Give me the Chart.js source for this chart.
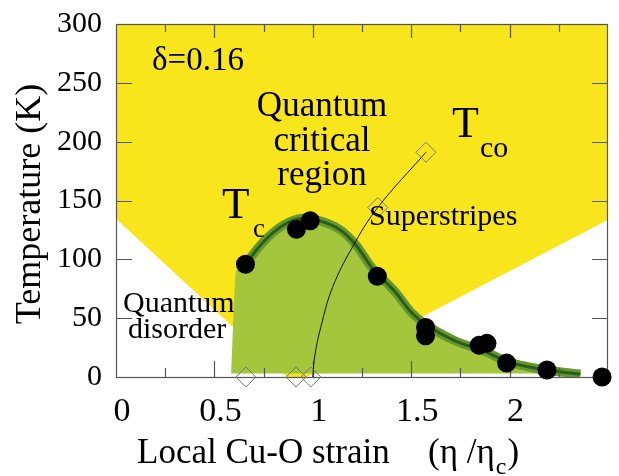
<!DOCTYPE html>
<html lang="en">
<head>
<meta charset="UTF-8">
<title>Phase diagram vs local Cu-O strain</title>
<script src="https://cdn.jsdelivr.net/npm/chart.js@4"></script>
<style>
  body { margin: 0; background: #fff; }
  #wrap { width: 619px; height: 476px; }
</style>
</head>
<body>
<div id="wrap"><canvas id="phase"></canvas></div>
<script>
// measured Tc points (black dots)
const tcX = [0.658, 0.917, 0.987, 1.328, 1.573, 1.573, 1.845, 1.885, 1.985, 2.19, 2.47];
const tcY = [95.8, 125.5, 132.8, 85.7, 42, 35, 26.9, 28.6, 11.8, 5.9, 0];

// smooth Tc curve drawn through the dots
const curveX = [0.64, 0.75, 0.85, 0.95, 1.02, 1.14, 1.22, 1.30, 1.42, 1.50, 1.57, 1.72, 1.87, 1.99, 2.10, 2.20, 2.36];
const curveY = [92, 115, 129, 135, 133.5, 125, 112, 93, 72, 55, 45, 31, 22, 13, 8.5, 5.5, 2.5];

// left edge of the superconducting (green) dome
const domeEdgeX = [0.585, 0.612];
const domeEdgeY = [3, 91];
const domeBase = 3;

// Tco points (open diamonds) and the line through them
const tcoX = [0.66, 0.915, 0.99, 1.33, 1.575];
const tcoY = [0, 0, 0, 144, 191];
const tcoLineX = [1.0, 1.01, 1.04, 1.10, 1.20, 1.33, 1.575];
const tcoLineY = [0, 18, 42, 76, 110, 144, 191];

// lower boundary of the quantum critical (yellow) region
const qcrX = [0, 0.87, 0.97, 2.5];
const qcrY = [134.5, 0, 0, 133.6];

const xTickLabels = ['0', '0.5', '1', '1.5', '2'];

const zip = (xs, ys) => xs.map((x, i) => ({ x: x, y: ys[i] }));

const serif = "'Liberation Serif'";

// inner tick marks and the box round the plot
function drawFrame(chart) {
  const { ctx, chartArea: a, scales } = chart;
  ctx.save();
  ctx.strokeStyle = '#555';
  ctx.lineWidth = 1.2;
  ctx.beginPath();
  scales.x.ticks.forEach(t => {
    if (t.value <= 0 || t.value >= 2.5) return;
    const px = Math.round(scales.x.getPixelForValue(t.value)) + 0.5;
    const major = Math.abs(t.value * 2 - Math.round(t.value * 2)) < 1e-6;
    ctx.moveTo(px, a.bottom); ctx.lineTo(px, a.bottom - (major ? 16 : 9));
    ctx.moveTo(px, a.top); ctx.lineTo(px, a.top + (major ? 14 : 8));
  });
  scales.y.ticks.forEach(t => {
    if (t.value <= 0 || t.value >= 300) return;
    const py = Math.round(scales.y.getPixelForValue(t.value)) + 0.5;
    ctx.moveTo(a.left, py); ctx.lineTo(a.left + 16, py);
    ctx.moveTo(a.right, py); ctx.lineTo(a.right - 16, py);
  });
  ctx.stroke();
  ctx.strokeRect(a.left + 0.5, a.top + 0.5, a.right - a.left - 1, a.bottom - a.top);
  ctx.restore();
}

const framePlugin = {
  id: 'frame',
  afterDatasetDraw(chart, args) {
    if (chart.data.datasets[args.index].label === 'Tc curve') drawFrame(chart);
  }
};

function text(ctx, s, x, y, size, align) {
  ctx.font = size + 'px ' + serif;
  ctx.textAlign = align || 'left';
  ctx.fillText(s, x, y);
}

const labelPlugin = {
  id: 'labels',
  afterDraw(chart) {
    const ctx = chart.ctx;
    ctx.save();
    ctx.fillStyle = '#000';
    ctx.textBaseline = 'alphabetic';
    text(ctx, 'δ=0.16', 152, 70, 33);
    text(ctx, 'Quantum', 322, 116, 35, 'center');
    text(ctx, 'critical', 322, 151, 35, 'center');
    text(ctx, 'region', 322, 185, 35, 'center');
    text(ctx, 'T', 222, 218, 45);
    text(ctx, 'c', 253, 237, 27);
    text(ctx, 'T', 452, 137, 44);
    text(ctx, 'co', 480, 157, 30);
    text(ctx, 'Superstripes', 369, 225, 30);
    text(ctx, 'Quantum', 123, 312, 30);
    text(ctx, 'disorder', 128, 338, 30);
    // y axis title, drawn rotated
    ctx.save();
    ctx.translate(40, 204);
    ctx.rotate(-Math.PI / 2);
    text(ctx, 'Temperature (K)', 0, 0, 36, 'center');
    ctx.restore();
    // x axis title with subscript
    text(ctx, 'Local Cu-O strain', 137, 463, 35);
    ctx.font = '35px ' + serif;
    const head = '(η /η';
    const w = ctx.measureText(head).width;
    text(ctx, head, 428, 463, 35);
    text(ctx, 'c', 428 + w + 1, 474, 24);
    ctx.font = '24px ' + serif;
    const wc = ctx.measureText('c').width;
    text(ctx, ')', 428 + w + wc + 2, 463, 35);
    ctx.restore();
  }
};

new Chart(document.getElementById('phase'), {
  type: 'line',
  data: {
    datasets: [
      {
        label: 'Tc data',
        data: zip(tcX, tcY),
        showLine: false,
        pointRadius: 9.5,
        pointBorderWidth: 0,
        pointBackgroundColor: '#000',
        clip: false,
        order: 0
      },
      {
        label: 'Tco data',
        data: zip(tcoX, tcoY),
        showLine: false,
        pointStyle: 'rectRot',
        pointRadius: 10,
        pointBorderWidth: 1,
        pointBorderColor: '#777',
        pointBackgroundColor: 'rgba(0,0,0,0)',
        clip: false,
        order: 1
      },
      {
        label: 'Tco line',
        data: zip(tcoLineX, tcoLineY),
        borderColor: '#111',
        borderWidth: 1,
        tension: 0.4,
        pointRadius: 0,
        order: 2
      },
      {
        label: 'Tc curve',
        data: zip(curveX, curveY),
        borderColor: '#2c5c1c',
        borderWidth: 3,
        cubicInterpolationMode: 'monotone',
        pointRadius: 0,
        order: 3
      },
      {
        label: 'Tc halo',
        data: zip(curveX, curveY),
        borderColor: '#64982e',
        borderWidth: 9,
        cubicInterpolationMode: 'monotone',
        pointRadius: 0,
        order: 4
      },
      {
        label: 'SC dome',
        data: zip(domeEdgeX.concat(curveX), domeEdgeY.concat(curveY)),
        borderWidth: 0,
        borderColor: 'rgba(0,0,0,0)',
        backgroundColor: '#a4c63c',
        fill: { value: domeBase },
        cubicInterpolationMode: 'monotone',
        pointRadius: 0,
        order: 5
      },
      {
        label: 'Quantum critical region',
        data: zip(qcrX, qcrY),
        borderWidth: 0,
        borderColor: 'rgba(0,0,0,0)',
        backgroundColor: '#f8e51b',
        fill: 'end',
        tension: 0,
        pointRadius: 0,
        order: 6
      }
    ]
  },
  options: {
    responsive: true,
    maintainAspectRatio: false,
    animation: false,
    layout: { padding: { top: 20, right: 2, left: 0, bottom: 0 } },
    plugins: { legend: { display: false }, tooltip: { enabled: false } },
    scales: {
      x: {
        type: 'linear',
        min: 0,
        max: 2.5,
        grid: { display: false },
        border: { display: false },
        afterFit: s => { s.height = 99; },
        ticks: {
          stepSize: 0.25,
          autoSkip: false,
          maxRotation: 0,
          padding: 7,
          labelOffset: 6,
          color: '#000',
          font: { family: serif, size: 34 },
          callback: v => xTickLabels.includes(String(v)) ? String(v) : ''
        }
      },
      y: {
        min: 0,
        max: 300,
        grid: { display: false },
        border: { display: false },
        afterFit: s => { s.width = 116; },
        ticks: {
          stepSize: 50,
          padding: 6,
          color: '#000',
          font: { family: serif, size: 30 }
        }
      }
    }
  },
  plugins: [framePlugin, labelPlugin]
});
</script>
</body>
</html>
